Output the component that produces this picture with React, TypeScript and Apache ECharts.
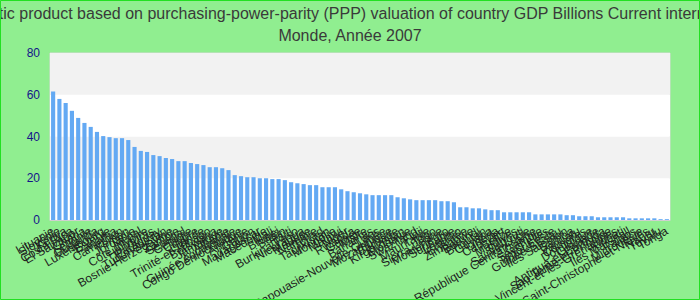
import React, { useEffect, useRef } from "react";
import * as echarts from "echarts";

const titleText =
  "Gross domestic product based on purchasing-power-parity (PPP) valuation of country GDP Billions Current international dollar";
const subtitleText = "Monde, Année 2007";

const countries: string[] = [
  "Lituanie", "Slovénie", "Kenya", "Costa Rica", "El Salvador", "Ghana", "Lettonie", "Ouganda", "Luxembourg", "Estonie",
  "Panama", "Cameroun", "Yémen", "Jordanie", "Népal", "Côte d'Ivoire", "Honduras", "Paraguay", "Turkménistan", "Bosnie-Herzégovine",
  "Zambie", "Sénégal", "Géorgie", "Chypre", "Islande", "Trinité-et-Tobago", "Botswana", "Jamaïque", "Albanie", "Guinée équatoriale",
  "Congo Démocratique", "Arménie", "Gabon", "Madagascar", "Macédoine", "Mali", "Brunei", "Bénin", "Haïti", "Burkina Faso",
  "Nicaragua", "Maurice", "Namibie", "Tchad", "Tadjikistan", "Mongolie", "Malawi", "Niger", "Rwanda", "Guinée",
  "Malte", "Bahamas", "Laos", "Papouasie-Nouvelle-Guinée", "Mozambique", "Barbade", "Kirghizistan", "Moldavie", "Swaziland", "Fidji",
  "Mauritanie", "Togo", "Sierra Leone", "Monténégro", "Suriname", "Lesotho", "Érythrée", "Zimbabwe", "Burundi", "Bhoutan",
  "Guyana", "Libéria", "Cap-Vert", "Belize", "Maldives", "Djibouti", "Sainte-Lucie", "République Centrafricaine", "Gambie", "Seychelles",
  "Timor-Leste", "Guinée-Bissau", "Îles Salomon", "Samoa", "Vanuatu", "Comores", "Dominique", "Grenade", "Antigua-et-Barbuda", "Sao Tomé-et-Principe",
  "Saint-Vincent-et-les-Grenadines", "Kiribati", "Îles Marshall", "Palaos", "Micronésie", "Saint-Christophe-et-Niévès", "Nauru", "Tuvalu", "Tonga",
];

const values: number[] = [
  61.5, 58.0, 56.1, 52.3, 48.9, 46.5, 44.6, 42.2, 40.2, 39.7,
  39.2, 39.2, 38.3, 35.0, 33.1, 32.6, 31.1, 30.6, 29.7, 29.2,
  28.2, 28.2, 27.3, 26.8, 26.3, 25.3, 25.3, 24.8, 23.9, 21.5,
  21.0, 20.5, 20.5, 20.0, 20.0, 19.6, 19.6, 19.1, 18.1, 17.6,
  17.2, 16.7, 16.7, 15.7, 15.7, 15.7, 14.7, 13.8, 13.3, 12.8,
  12.3, 11.9, 11.9, 11.9, 11.9, 10.9, 10.4, 9.9, 9.5, 9.5,
  9.5, 9.5, 9.0, 9.0, 8.5, 6.1, 6.1, 5.6, 5.6, 5.1,
  4.7, 4.7, 3.7, 3.7, 3.7, 3.7, 3.7, 2.7, 2.7, 2.7,
  2.7, 2.7, 2.3, 2.3, 1.8, 1.8, 1.8, 1.3, 1.3, 1.3,
  1.3, 1.3, 0.8, 0.8, 0.8, 0.8, 0.8, 0.4, 0.4,
];

const yMin = 0;
const yMax = 80;
const yInterval = 20;

const FONT = "'Liberation Sans', Arial, sans-serif";

export default function App() {
  const ref = useRef<HTMLDivElement>(null);
  useEffect(() => {
    document.body.style.margin = "0";
    if (!ref.current) return;
    const chart = echarts.init(ref.current, undefined, { renderer: "svg" });
    chart.setOption({
      animation: false,
      backgroundColor: "#90ee90",
      title: {
        text: titleText,
        subtext: subtitleText,
        left: "center",
        top: 0,
        itemGap: 6,
        textStyle: { fontFamily: FONT, fontSize: 16, fontWeight: "normal", color: "#3a3a3a" },
        subtextStyle: { fontFamily: FONT, fontSize: 16, color: "#3a3a3a" },
      },
      graphic: [
        {
          type: "rect",
          shape: { x: 0.5, y: 0.5, width: 699, height: 299 },
          style: { fill: "none", stroke: "#22e022", lineWidth: 1 },
          silent: true,
          z: 100,
        },
      ],
      grid: {
        left: 50,
        right: 30,
        top: 53,
        bottom: 80,
        containLabel: false,
        outerBoundsMode: "none",
        show: true,
        backgroundColor: "#ffffff",
        borderColor: "#d8d8d8",
        borderWidth: 1,
      },
      xAxis: {
        type: "category",
        data: countries,
        axisTick: { show: false },
        axisLine: { show: true, lineStyle: { color: "#d0d0d0", width: 1 } },
        axisLabel: {
          interval: 0,
          rotate: 30,
          margin: 10,
          fontFamily: FONT,
          fontSize: 12,
          color: "#1e1e1e",
        },
      },
      yAxis: {
        type: "value",
        min: yMin,
        max: yMax,
        interval: yInterval,
        axisLine: { show: false },
        axisTick: { show: false },
        splitLine: { show: false },
        splitArea: { show: true, areaStyle: { color: ["#ffffff", "#f2f2f2"] } },
        axisLabel: { fontFamily: FONT, fontSize: 12, color: "#14148a", margin: 10 },
      },
      series: [
        {
          type: "bar",
          data: values,
          barCategoryGap: "34%",
          itemStyle: { color: "#63a9f3" },
        },
      ],
    });
    return () => chart.dispose();
  }, []);
  return <div ref={ref} style={{ width: 700, height: 300 }} />;
}
